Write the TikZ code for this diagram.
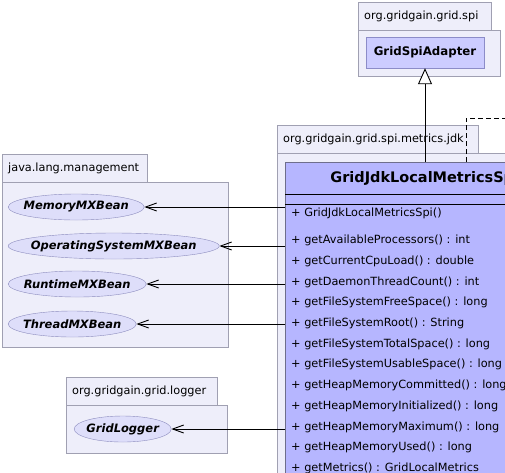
\documentclass[tikz,border=0pt]{standalone}
\usepackage{fontspec}
\setmainfont{DejaVu Sans}[BoldFont={DejaVu Sans Bold},ItalicFont={DejaVu Sans Oblique},BoldItalicFont={DejaVu Sans Bold Oblique}]
\usetikzlibrary{positioning}
\usetikzlibrary{shapes.geometric}
\usetikzlibrary{arrows.meta}

\definecolor{pkgfill}{RGB}{238,238,250}
\definecolor{pkgline}{RGB}{160,160,178}
\definecolor{clsfill}{RGB}{182,182,255}
\definecolor{clsline}{RGB}{110,110,140}
\definecolor{ifcfill}{RGB}{204,204,255}
\definecolor{ifcline}{RGB}{140,140,200}
\definecolor{beanfill}{RGB}{222,222,250}
\definecolor{beanline}{RGB}{140,140,190}

\tikzset{
  pkgtab/.style={draw=pkgline, fill=pkgfill, anchor=north west, minimum height=28pt, inner xsep=6pt, inner ysep=0pt, align=left, font=\fontsize{11.3}{13}\selectfont},
  pkgbody/.style={draw=pkgline, fill=pkgfill, anchor=north west, inner sep=0pt},
  bean/.style={ellipse, draw=beanline, fill=beanfill, anchor=west, inner sep=0pt, minimum height=26pt, font=\fontsize{11.5}{13}\selectfont\bfseries\itshape},
  ifc/.style={draw=ifcline, fill=ifcfill, inner sep=0pt, minimum width=118pt, minimum height=31pt, font=\fontsize{11.8}{13}\selectfont\bfseries},
  cls/.style={draw=clsline, fill=clsfill, anchor=north west, inner sep=0pt},
  part/.style={inner sep=0pt, minimum width=279pt},
  op/.style={anchor=west, inner sep=0pt, font=\fontsize{11.3}{13}\selectfont},
  dep/.style={line width=0.9pt, -{Straight Barb[length=11pt,width=8pt]}},
  gen/.style={line width=0.9pt, -{Triangle[open,length=16pt,width=14pt,fill=white]}},
  real/.style={line width=0.9pt, dash pattern=on 5pt off 3pt}
}
\newcommand{\zw}[1]{\makebox[0pt]{#1}}

\begin{document}
\begin{tikzpicture}[x=1pt,y=-1pt]
  \useasboundingbox (0,0) rectangle (505,472);
  \clip (0,0) rectangle (505,472);
  \fill[white] (0,0) rectangle (505,472);

  \node[pkgbody, minimum width=142pt, minimum height=46pt] (spiBody) at (358,30) {};
  \node[pkgtab, text width=121pt] (spiTab) at (358,2) {org.gridgain.grid.spi};
  \node[ifc] (adapter) at (425,52.5) {GridSpiAdapter};

  \node[pkgbody, minimum width=226pt, minimum height=165pt] (jlmBody) at (2,182) {};
  \node[pkgtab, text width=133pt] (jlmTab) at (2,154) {java.lang.management};
  \node[bean, minimum width=136pt] (memory) at (8,207) {\zw{MemoryMXBean}};
  \node[bean, minimum width=211pt] (osys) at (8,246) {\zw{OperatingSystemMXBean}};
  \node[bean, minimum width=138pt] (runtime) at (8,284) {\zw{RuntimeMXBean}};
  \node[bean, minimum width=128pt] (thread) at (8,324) {\zw{ThreadMXBean}};

  \node[pkgbody, minimum width=161pt, minimum height=48pt] (logBody) at (66,405) {};
  \node[pkgtab, text width=139pt] (logTab) at (66,377) {org.gridgain.grid.logger};
  \node[bean, minimum width=97pt] (logger) at (74,429) {\zw{GridLogger}};

  \node[pkgbody, minimum width=300pt, minimum height=400pt] (jdkBody) at (277,153) {};
  \node[pkgtab, text width=189pt] (jdkTab) at (277,125) {org.gridgain.grid.spi.metrics.jdk};

  \node[cls, minimum width=279pt, minimum height=400pt] (cls) at (285,162) {};
  \node[part, anchor=north, minimum height=32pt, font=\fontsize{14.5}{16}\selectfont\bfseries] (clsName) at (cls.north) {GridJdkLocalMetricsSpi};
  \node[part, below=0pt of clsName, minimum height=10pt] (attrs) {};
  \draw[line width=1.1pt] (clsName.south west) -- (clsName.south east);
  \draw[line width=1.1pt] (attrs.south west) -- (attrs.south east);
  \node[op] (ctor) at (291,213) {+ GridJdkLocalMetricsSpi()};
  \foreach \m [count=\i] in {
      {+ getAvailableProcessors() : int},
      {+ getCurrentCpuLoad() : double},
      {+ getDaemonThreadCount() : int},
      {+ getFileSystemFreeSpace() : long},
      {+ getFileSystemRoot() : String},
      {+ getFileSystemTotalSpace() : long},
      {+ getFileSystemUsableSpace() : long},
      {+ getHeapMemoryCommitted() : long},
      {+ getHeapMemoryInitialized() : long},
      {+ getHeapMemoryMaximum() : long},
      {+ getHeapMemoryUsed() : long},
      {+ getMetrics() : GridLocalMetrics}}
    \node[op] (op\i) at (291,{240.5+20.72*(\i-1)}) {\m};

  \foreach \b in {memory,osys,runtime,thread,logger}
    \draw[dep] (cls.west |- \b.east) -- (\b.east);
  \draw[gen] (cls.north -| adapter.south) -- (adapter.south);
  \coordinate (ifcEnd) at (530,118);
  \draw[real] (cls.north west) ++(181,0) |- (ifcEnd);
\end{tikzpicture}
\end{document}
